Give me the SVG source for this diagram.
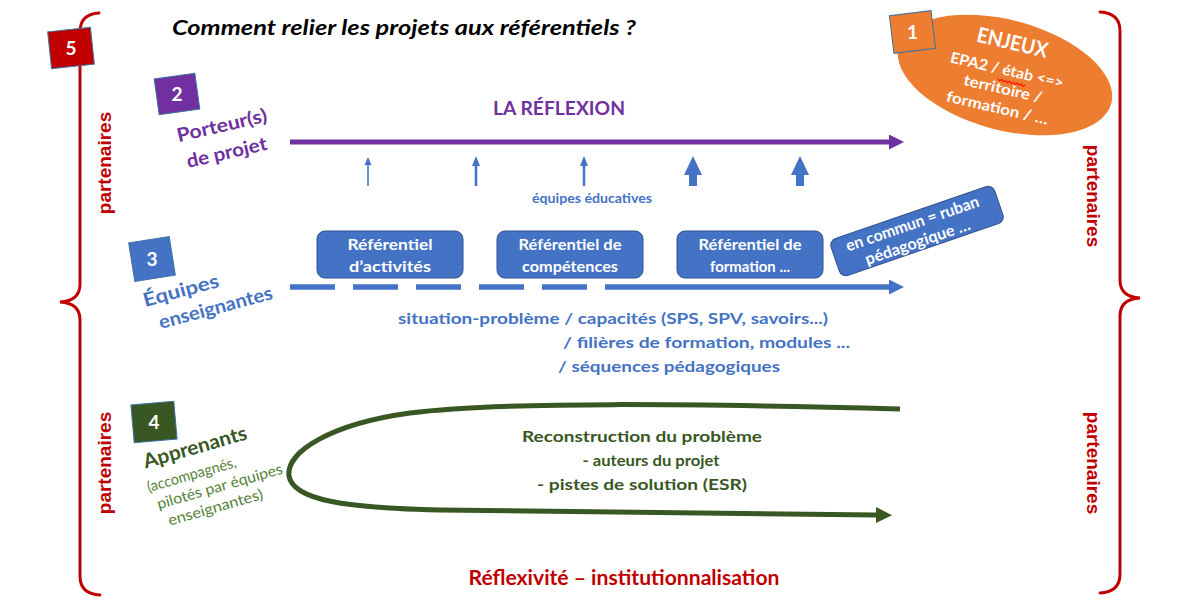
<svg xmlns="http://www.w3.org/2000/svg" width="1182" height="601" viewBox="0 0 1182 601">
<style>
  text { font-family: Lato, "Open Sans", "Liberation Sans", sans-serif; font-weight: bold; }
  .num { fill: #ffffff; font-size: 19px; text-anchor: middle; }
  .box { stroke: #41719C; stroke-width: 1; }
  .part { fill: #C00000; font-family: "Liberation Sans", Arial, sans-serif; font-size: 19px; text-anchor: middle; }
  .brace { fill: none; stroke: #C00000; stroke-width: 3; stroke-linecap: round; }
  .ref { fill: #4472C4; stroke: #2F528F; stroke-width: 1; }
  .reft { fill: #ffffff; font-size: 16px; text-anchor: middle; }
  .bluet { fill: #4472C4; font-size: 16px; }
  .greent { fill: #385723; font-size: 16px; text-anchor: middle; }
  .mid { text-anchor: middle; }
</style>
<defs>
  <marker id="ahP" viewBox="0 0 10 10" refX="0" refY="5" markerWidth="15" markerHeight="15" markerUnits="userSpaceOnUse" orient="auto">
    <path d="M0,0 L10,5 L0,10 z" fill="#7030A0"/>
  </marker>
  <marker id="ahB" viewBox="0 0 10 10" refX="0" refY="5" markerWidth="15" markerHeight="15" markerUnits="userSpaceOnUse" orient="auto">
    <path d="M0,0 L10,5 L0,10 z" fill="#4472C4"/>
  </marker>
  <marker id="ahG" viewBox="0 0 10 10" refX="0" refY="5" markerWidth="16" markerHeight="16" markerUnits="userSpaceOnUse" orient="auto">
    <path d="M0,0 L10,5 L0,10 z" fill="#385723"/>
  </marker>
</defs>

<rect x="0" y="0" width="1182" height="601" fill="#ffffff"/>

<!-- title -->
<text id="title" x="172" y="35" font-style="italic" font-size="20" fill="#000000" textLength="464" lengthAdjust="spacingAndGlyphs">Comment relier les projets aux référentiels ?</text>

<!-- braces + partenaires (5) -->
<g id="node-5">
  <path class="brace" d="M 99 13 Q 80 14 80 32 L 80 284 Q 80 301 60 302 Q 80 303 80 320 L 80 576 Q 80 594 100 595"/>
  <path class="brace" d="M 1100 12 Q 1120 13 1120 31 L 1120 280 Q 1120 297 1140 298 Q 1120 299 1120 316 L 1120 574 Q 1120 592 1100 593"/>
  <rect class="box" x="-21.5" y="-18.5" width="43" height="37" fill="#C00000" transform="translate(71,48) rotate(-6)"/>
  <text class="num" x="71" y="55">5</text>
  <text class="part" transform="translate(105,163) rotate(-90)" x="0" y="6">partenaires</text>
  <text class="part" transform="translate(105,463) rotate(-90)" x="0" y="6">partenaires</text>
  <text class="part" transform="translate(1093,196) rotate(90)" x="0" y="6">partenaires</text>
  <text class="part" transform="translate(1093,463) rotate(90)" x="0" y="6">partenaires</text>
  <text id="bottom-label" x="624" y="585" font-size="20" fill="#C00000" text-anchor="middle" textLength="311" lengthAdjust="spacingAndGlyphs">Réflexivité – institutionnalisation</text>
</g>

<!-- 1 : enjeux -->
<g id="node-1">
  <ellipse cx="1005" cy="75" rx="110" ry="55" transform="rotate(15 1005 75)" fill="#ED7D31"/>
  <rect class="box" x="-21" y="-19" width="42" height="38" fill="#ED7D31" transform="translate(912.5,32) rotate(-7)"/>
  <text class="num" x="912.5" y="39">1</text>
  <g transform="translate(1005,75) rotate(13)" fill="#ffffff">
    <text class="mid" x="0" y="-26" font-size="21" textLength="72" lengthAdjust="spacingAndGlyphs">ENJEUX</text>
    <text class="mid" x="1" y="0" font-size="15" textLength="116" lengthAdjust="spacingAndGlyphs">EPA2 / étab &lt;=&gt;</text>
    <text class="mid" x="1" y="19" font-size="15" textLength="80" lengthAdjust="spacingAndGlyphs">territoire /</text>
    <text class="mid" x="0" y="39" font-size="15" textLength="104" lengthAdjust="spacingAndGlyphs">formation / …</text>
    <path d="M -6 5 l 2 2 l 2 -2 l 2 2 l 2 -2 l 2 2 l 2 -2 l 2 2 l 2 -2 l 2 2 l 2 -2 l 2 2 l 2 -2 l 2 2 l 2 -2" fill="none" stroke="#FF0000" stroke-width="1"/>
  </g>
</g>

<!-- 2 : porteurs -->
<g id="node-2">
  <rect class="box" x="-20.5" y="-18" width="41" height="36" fill="#7030A0" transform="translate(177,94) rotate(-8)"/>
  <text class="num" x="177" y="101">2</text>
  <text transform="translate(222,126) rotate(-13)" x="0" y="6" class="mid" font-size="19" fill="#7030A0" textLength="92" lengthAdjust="spacingAndGlyphs">Porteur(s)</text>
  <text transform="translate(227,154) rotate(-13)" x="0" y="5" class="mid" font-size="19" fill="#7030A0" textLength="82" lengthAdjust="spacingAndGlyphs">de projet</text>
  <text x="559" y="115" class="mid" font-size="19" fill="#7030A0" textLength="132" lengthAdjust="spacingAndGlyphs">LA RÉFLEXION</text>
</g>

<!-- 3 : equipes enseignantes -->
<g id="node-3">
  <rect class="box" x="-20.5" y="-19.5" width="41" height="39" fill="#4472C4" transform="translate(152,259) rotate(-9)"/>
  <text class="num" x="152" y="266">3</text>
  <text transform="translate(181,291) rotate(-15)" x="0" y="6" class="mid" font-size="19" fill="#4472C4" textLength="78" lengthAdjust="spacingAndGlyphs">Équipes</text>
  <text transform="translate(216,309) rotate(-15)" x="0" y="5" class="mid" font-size="19" fill="#4472C4" textLength="117" lengthAdjust="spacingAndGlyphs">enseignantes</text>
  <text x="592" y="203" class="mid" font-size="13" fill="#4472C4" textLength="120" lengthAdjust="spacingAndGlyphs">équipes éducatives</text>
  <text class="bluet" x="398" y="324" textLength="430" lengthAdjust="spacingAndGlyphs">situation-problème / capacités (SPS, SPV, savoirs...)</text>
  <text class="bluet" x="563" y="348" textLength="287" lengthAdjust="spacingAndGlyphs">/ filières de formation, modules ...</text>
  <text class="bluet" x="558" y="372" textLength="222" lengthAdjust="spacingAndGlyphs">/ séquences pédagogiques</text>
</g>

<g id="ref-activites">
  <rect class="ref" x="317" y="231" width="146" height="47" rx="8"/>
  <text class="reft" x="390" y="250" textLength="85" lengthAdjust="spacingAndGlyphs">Référentiel</text>
  <text class="reft" x="390" y="272" textLength="82" lengthAdjust="spacingAndGlyphs">d’activités</text>
</g>
<g id="ref-competences">
  <rect class="ref" x="497" y="231" width="146" height="47" rx="8"/>
  <text class="reft" x="570" y="250" textLength="103" lengthAdjust="spacingAndGlyphs">Référentiel de</text>
  <text class="reft" x="570" y="272" textLength="96" lengthAdjust="spacingAndGlyphs">compétences</text>
</g>
<g id="ref-formation">
  <rect class="ref" x="677" y="231" width="146" height="47" rx="8"/>
  <text class="reft" x="750" y="250" textLength="103" lengthAdjust="spacingAndGlyphs">Référentiel de</text>
  <text class="reft" x="750" y="272" textLength="80" lengthAdjust="spacingAndGlyphs">formation ...</text>
</g>
<g id="ruban" transform="translate(917,231) rotate(-19)">
  <rect class="ref" x="-86.5" y="-19.5" width="173" height="39" rx="7"/>
  <text class="reft" x="-2" y="-3" textLength="140" lengthAdjust="spacingAndGlyphs">en commun = ruban</text>
  <text class="reft" x="-3" y="16" textLength="110" lengthAdjust="spacingAndGlyphs">pédagogique …</text>
</g>

<!-- 4 : apprenants -->
<g id="node-4">
  <rect class="box" x="-21.5" y="-19" width="43" height="38" fill="#385723" transform="translate(154,422) rotate(-5)"/>
  <text class="num" x="154" y="429">4</text>
  <text transform="translate(195,447) rotate(-16)" x="0" y="7" class="mid" font-size="20" fill="#385723" textLength="107" lengthAdjust="spacingAndGlyphs">Apprenants</text>
  <g transform="rotate(-16 200 490)" fill="#548235" font-size="15">
    <text x="196" y="478" class="mid" style="font-weight:normal" textLength="92" lengthAdjust="spacingAndGlyphs">(accompagnés,</text>
    <text x="220" y="497" class="mid" style="font-weight:normal" textLength="130" lengthAdjust="spacingAndGlyphs">pilotés par équipes</text>
    <text x="210" y="516" class="mid" style="font-weight:normal" textLength="98" lengthAdjust="spacingAndGlyphs">enseignantes)</text>
  </g>
  <text class="greent" x="642" y="442" textLength="240" lengthAdjust="spacingAndGlyphs">Reconstruction du problème</text>
  <text class="greent" x="651" y="466" textLength="137" lengthAdjust="spacingAndGlyphs">- auteurs du projet</text>
  <text class="greent" x="642" y="490" textLength="210" lengthAdjust="spacingAndGlyphs">- pistes de solution (ESR)</text>
</g>

<!-- connectors -->
<g id="connectors">
  <line x1="290" y1="142" x2="889" y2="142" stroke="#7030A0" stroke-width="5" marker-end="url(#ahP)"/>
  <line x1="290" y1="287" x2="889" y2="287" stroke="#4472C4" stroke-width="5.5" stroke-dasharray="45 18 45 18 45 18 45 18 45 18 1000" marker-end="url(#ahB)"/>
  <path d="M 900 409 C 700 404, 500 401, 410 413 C 330 424, 286 452, 289 476 C 293 500, 345 508, 440 510 L 876 515" fill="none" stroke="#385723" stroke-width="5" marker-end="url(#ahG)"/>
  <g fill="#4472C4" stroke="#4472C4">
    <line x1="368" y1="186" x2="368" y2="163" stroke-width="1.5"/>
    <polygon points="368,157 364.5,165 371.5,165" stroke="none"/>
    <line x1="476" y1="186" x2="476" y2="163" stroke-width="2.5"/>
    <polygon points="476,156 472,166 480,166" stroke="none"/>
    <line x1="584" y1="186" x2="584" y2="163" stroke-width="2.5"/>
    <polygon points="584,156 580,166 588,166" stroke="none"/>
    <polygon points="693,156 702,175 697,175 697,186 689,186 689,175 684,175" stroke="none"/>
    <polygon points="800,156 809,175 804,175 804,186 796,186 796,175 791,175" stroke="none"/>
  </g>
</g>
</svg>
